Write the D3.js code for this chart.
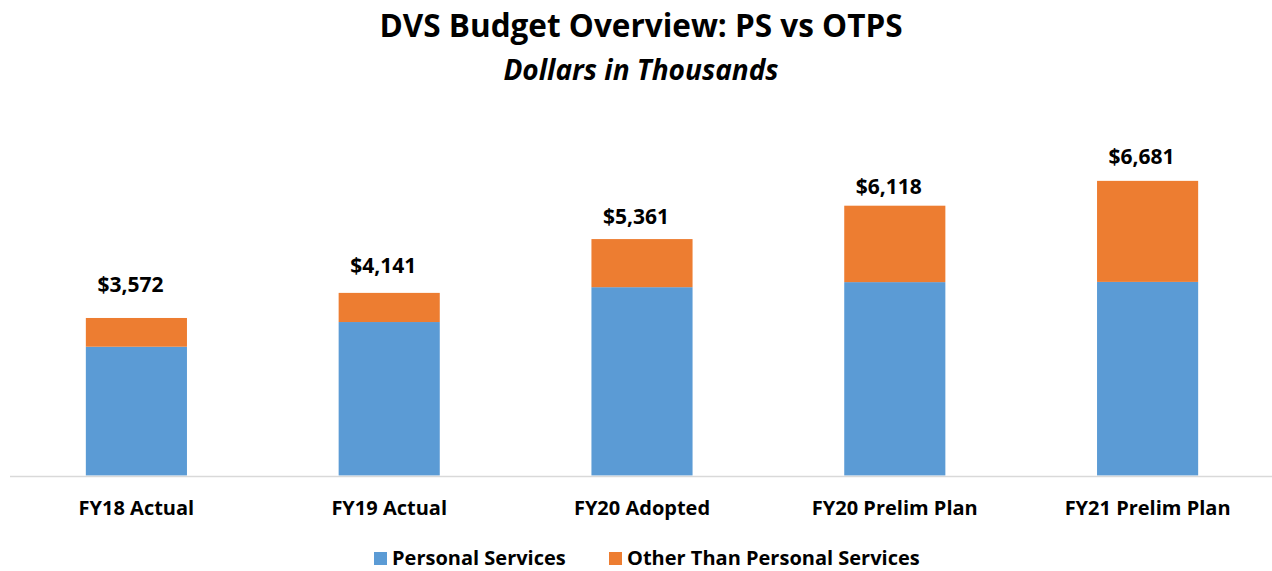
<!DOCTYPE html>
<html lang="en">
<head>
    <meta charset="UTF-8">
    <title>DVS Budget Overview</title>

    <script src="https://d3js.org/d3.v7.min.js"></script>

    <style>
        html, body {
            margin: 0;
            padding: 0;
            background: #fff;
        }
        svg text {
            font-family: "Open Sans", Lato, sans-serif;
            font-weight: bold;
            fill: #000;
        }
    </style>

    <script>

        const CATEGORIES = ["FY18 Actual", "FY19 Actual", "FY20 Adopted", "FY20 Prelim Plan", "FY21 Prelim Plan"];
        const PS = [2920, 3480, 4270, 4385, 4390];
        const OTPS = [652, 661, 1091, 1733, 2291];
        const TOTALS = [3572, 4141, 5361, 6118, 6681];
        const SERIES = ["Personal Services", "Other Than Personal Services"];

        document.addEventListener("DOMContentLoaded", function() {
            drawChart();
        })

        function drawChart() {
            const width = 1272;
            const height = 571;
            const svg = d3.select("svg")
                .attr("width", width)
                .attr("height", height);

            const colors = d3.scaleOrdinal()
                .domain(SERIES)
                .range(["#5b9bd5", "#ed7d31"]);

            const rows = CATEGORIES.map((c, i) => ({cat: c, ps: PS[i], otps: OTPS[i], total: TOTALS[i]}));
            const stacked = d3.stack().keys(["ps", "otps"])(rows);

            const x = d3.scaleBand()
                .domain(CATEGORIES)
                .range([10, 1274])
                .paddingInner(0.6)
                .paddingOuter(0.3);

            const y = d3.scaleLinear()
                .domain([0, 8000])
                .range([475.5, 122.7]);

            // labels were nudged by hand in the original, keep the same offsets
            const labelDy = [25.5, 19.5, 15, 11.5, 16.5];

            // bars
            svg.append("g")
                .selectAll("g")
                .data(stacked)
                .enter()
                .append("g")
                .attr("fill", (d, i) => colors(SERIES[i]))
                .selectAll("rect")
                .data(d => d)
                .enter()
                .append("rect")
                .attr("x", d => x(d.data.cat))
                .attr("width", x.bandwidth())
                .attr("y", d => y(d[1]))
                .attr("height", d => y(d[0]) - y(d[1]));

            // axis line
            svg.append("line")
                .attr("x1", 10).attr("x2", 1272)
                .attr("y1", 476.5).attr("y2", 476.5)
                .attr("stroke", "#d9d9d9")
                .attr("stroke-width", 1.5);

            // category labels
            svg.append("g")
                .selectAll("text")
                .data(CATEGORIES)
                .enter()
                .append("text")
                .attr("x", d => x(d) + x.bandwidth() / 2)
                .attr("y", 515)
                .attr("text-anchor", "middle")
                .style("font-size", "20px")
                .text(d => d);

            // totals
            svg.append("g")
                .selectAll("text")
                .data(rows)
                .enter()
                .append("text")
                .attr("x", d => x(d.cat) + x.bandwidth() / 2 - 6)
                .attr("y", (d, i) => y(d.total) - labelDy[i])
                .attr("text-anchor", "middle")
                .style("font-size", "21px")
                .text(d => "$" + d3.format(",")(d.total));

            // titles
            svg.append("text")
                .attr("x", 641)
                .attr("y", 37)
                .attr("text-anchor", "middle")
                .style("font-size", "31.5px")
                .text("DVS Budget Overview: PS vs OTPS");

            svg.append("text")
                .attr("x", 641)
                .attr("y", 80)
                .attr("text-anchor", "middle")
                .style("font-size", "28px")
                .style("font-style", "italic")
                .text("Dollars in Thousands");

            // legend
            const legendX = [374, 609];
            const legend = svg.append("g")
                .selectAll("g")
                .data(SERIES)
                .enter()
                .append("g")
                .attr("transform", (d, i) => "translate(" + legendX[i] + ",552)");

            legend.append("rect")
                .attr("width", 13)
                .attr("height", 13)
                .attr("fill", d => colors(d));

            legend.append("text")
                .attr("x", 18)
                .attr("y", 13)
                .style("font-size", "20px")
                .text(d => d);
        }

    </script>

</head>
<body>
    <svg id="chart"></svg>
</body>
</html>
